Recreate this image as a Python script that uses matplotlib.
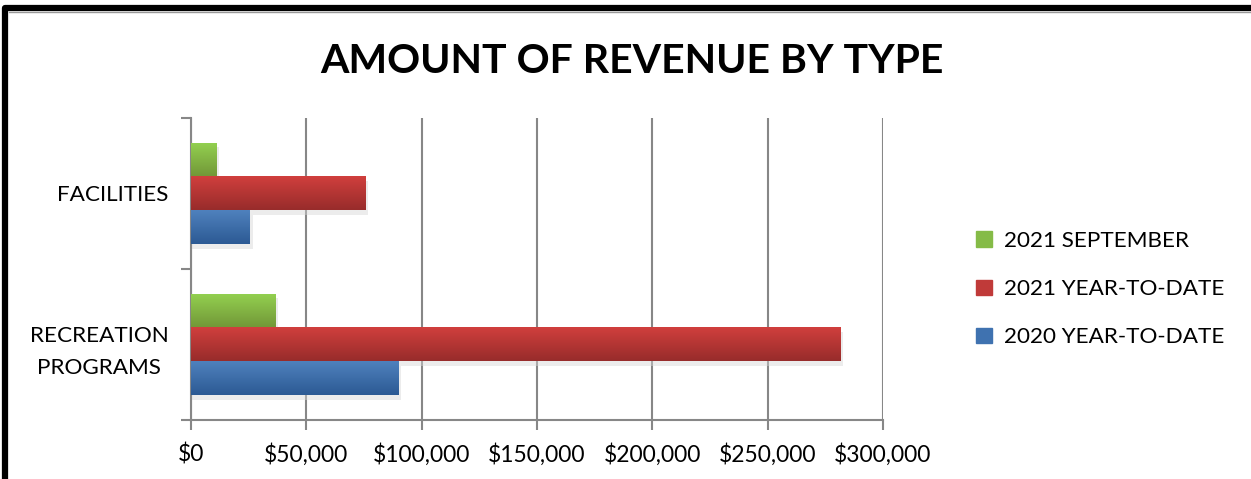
import numpy as np
import matplotlib.pyplot as plt
import matplotlib.transforms as mtransforms
from matplotlib.colors import LinearSegmentedColormap
from matplotlib.ticker import FuncFormatter
from matplotlib.patches import Rectangle

plt.rcParams['font.family'] = ['Lato', 'DejaVu Sans']

# data (bottom category first)
categories = ['RECREATION\nPROGRAMS', 'FACILITIES']
series_names = ['2020 YEAR-TO-DATE', '2021 YEAR-TO-DATE', '2021 SEPTEMBER']
ytd_2020 = [90000, 25500]
ytd_2021 = [281500, 75500]
sep_2021 = [36500, 11000]
values = [ytd_2020, ytd_2021, sep_2021]

# gradient colours (top, bottom) per series
grads = [('#4f81bd', '#2c5a94'), ('#d03f3d', '#982c2b'), ('#93d150', '#739838')]
legend_cols = ['#3f72b0', '#c03a39', '#85bb47']

fig = plt.figure(figsize=(12.51, 4.79), dpi=100)
ax = fig.add_axes([0.1527, 0.1232, 0.5531, 0.6305])

h = 0.225
offsets = [-h, 0, h]
y = np.arange(len(categories))

for vals, off, (ctop, cbot) in zip(values, offsets, grads):
    cmap = LinearSegmentedColormap.from_list('g', [cbot, ctop])
    for yi, v in zip(y, vals):
        # soft shadow
        ax.add_patch(Rectangle((0, yi + off - h / 2 - 0.03), v + 1200, h,
                               facecolor='#d6d6d6', edgecolor='none', alpha=0.45, zorder=2))
        bar = ax.barh(yi + off, v, height=h, color=ctop, edgecolor='none', zorder=3)[0]
        im = ax.imshow(np.linspace(0, 1, 50).reshape(-1, 1), cmap=cmap, aspect='auto',
                       extent=[0, v, yi + off - h / 2, yi + off + h / 2],
                       origin='lower', zorder=3.5)
        im.set_clip_path(bar)

ax.set_xlim(0, 300000)
ax.set_ylim(-0.5, 1.5)
ax.set_xticks(np.arange(0, 300001, 50000))
ax.xaxis.set_major_formatter(FuncFormatter(lambda v, p: '${:,.0f}'.format(v)))
ax.set_yticks([-0.5, 0.5, 1.5])
ax.set_yticklabels([])
ax.set_yticks(y, minor=True)
ax.set_yticklabels(categories, minor=True, fontsize=16.2, multialignment='center')
shift = mtransforms.ScaledTranslation(0, 5 / 100, fig.dpi_scale_trans)
for lab in ax.get_yticklabels(minor=True):
    lab.set_linespacing(1.7)
    if '\n' in lab.get_text():
        lab.set_transform(lab.get_transform() + shift)
ax.tick_params(axis='y', which='minor', length=0, pad=16)
ax.tick_params(axis='y', which='major', length=7, color='#878787', width=1.5)
ax.tick_params(axis='x', length=7, color='#878787', width=1.5, labelsize=16.5, pad=10)

ax.grid(axis='x', color='#878787', linewidth=1.5, zorder=1)
ax.set_axisbelow(True)
for s in ['top', 'right']:
    ax.spines[s].set_visible(False)
for s in ['left', 'bottom']:
    ax.spines[s].set_color('#878787')
    ax.spines[s].set_linewidth(1.5)
ax.set_xlim(0, 300000)
ax.set_ylim(-0.5, 1.5)

fig.text(0.505, 0.872, 'AMOUNT OF REVENUE BY TYPE', ha='center', va='center',
         fontsize=29.5, fontweight='bold')

handles = [Rectangle((0, 0), 1, 1, color=c) for c in legend_cols[::-1]]
fig.legend(handles, series_names[::-1], loc='center left', bbox_to_anchor=(0.764, 0.396),
           frameon=False, fontsize=16.2, labelspacing=1.25, handlelength=0.7,
           handleheight=0.7, handletextpad=0.55)

# black frame round the figure
fig.add_artist(plt.Line2D([0.0040, 0.0040, 1.0], [0.0, 0.9843, 0.9843],
                          transform=fig.transFigure, color='black', linewidth=4.5))
fig.add_artist(plt.Line2D([0.0075, 1.0], [0.9755, 0.9755],
                          transform=fig.transFigure, color='#999999', linewidth=1))

fig.savefig('out.png', dpi=100)
